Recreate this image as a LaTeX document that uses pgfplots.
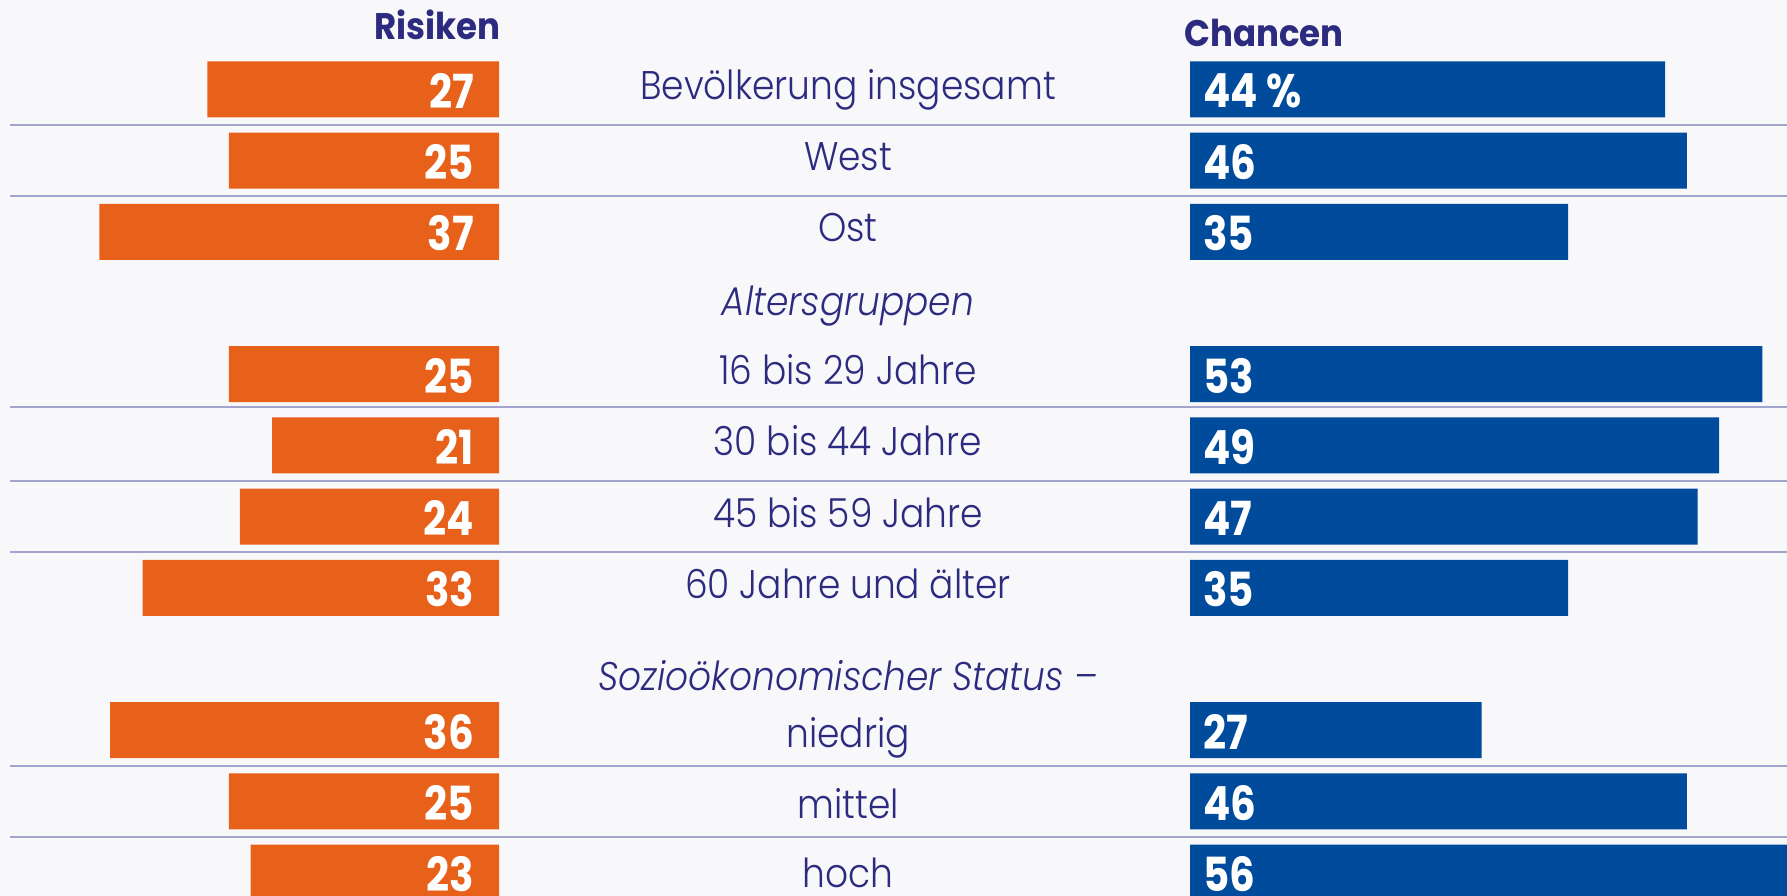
\documentclass[border=0pt]{standalone}
\usepackage{fontspec}
\setmainfont{Poppins}
\usepackage{pgfplots}
\usepackage{pgfplotstable}
\pgfplotsset{compat=1.18}
\definecolor{bg}{HTML}{F8F8FA}
\definecolor{orng}{HTML}{E8611A}
\definecolor{blu}{HTML}{004B9B}
\definecolor{navy}{HTML}{2D2B7F}
\definecolor{gridc}{HTML}{A3A4CE}
\IfFontExistsTF{Poppins Light}{\newfontfamily\lblfont[FakeStretch=0.9]{Poppins Light}}{\newfontfamily\lblfont[FakeStretch=0.9]{Poppins}}
\newfontfamily\numfont[FakeStretch=0.86]{Poppins}
\newfontfamily\headfont[FakeStretch=0.92]{Poppins}

\pgfplotstableread{
y risk chance clab
89.4 27 44 44~\%
160.6 25 46 46
231.8 37 35 35
374.2 25 53 53
445.4 21 49 49
516.6 24 47 47
587.8 33 35 35
730.2 36 27 27
801.4 25 46 46
872.6 23 56 56
}\datatab

\pgfplotstableread[col sep=semicolon]{
x;y;label
848;100;Bevölkerung insgesamt
848;170.7;West
848;241.7;Ost
848;384.7;16 bis 29 Jahre
848;455.9;30 bis 44 Jahre
848;527.1;45 bis 59 Jahre
848;598.3;60 Jahre und älter
848;747;niedrig
848;818;mittel
848;887;hoch
}\labtab

\pgfplotstableread[col sep=semicolon]{
x;y;label
848;315;Altersgruppen
848;690;Sozioökonomischer Status –
}\itatab

\begin{document}
\begin{tikzpicture}
\fill[bg] (0,0) rectangle (1787pt,896pt);
\useasboundingbox (0,0) rectangle (1787pt,896pt);

% grid lines and centre labels
\begin{axis}[at={(10pt,0pt)}, anchor=south west, scale only axis,
  width=1777pt, height=896pt, xmin=10, xmax=1787, ymin=0, ymax=896,
  y dir=reverse, axis line style={draw=none}, xtick=\empty,
  ytick={125,196.2,407,481,552.2,765.8,837}, yticklabels={},
  major tick length=0pt, ymajorgrids, grid style={gridc, line width=1.8pt},
  clip=false]
\addplot[draw=none, mark=none, nodes near coords, point meta=explicit symbolic,
  every node near coord/.append style={anchor=base, text=navy, inner sep=0pt,
  font=\lblfont\fontsize{40}{48}\selectfont}]
  table[x=x, y=y, meta=label] \labtab;
\addplot[draw=none, mark=none, nodes near coords, point meta=explicit symbolic,
  every node near coord/.append style={anchor=base, text=navy, inner sep=0pt,
  font=\lblfont\itshape\fontsize{40}{48}\selectfont}]
  table[x=x, y=y, meta=label] \itatab;
\end{axis}

% Risiken
\begin{axis}[at={(0pt,0pt)}, anchor=south west, scale only axis,
  width=499pt, height=896pt, xmin=0, xmax=46.2037, x dir=reverse,
  ymin=0, ymax=896, y dir=reverse, hide axis]
\addplot[xbar, bar width=56, fill=orng, draw=none] table[x=risk, y=y] \datatab;
\addplot[draw=none, mark=none, nodes near coords, point meta=explicit symbolic,
  every node near coord/.append style={anchor=east, text=white, inner sep=0pt, yshift=-1.5pt,
  font=\numfont\bfseries\fontsize{47}{50}\selectfont}]
  table[x expr=2.3, y=y, meta=risk] \datatab;
\end{axis}

% Chancen
\begin{axis}[at={(1190pt,0pt)}, anchor=south west, scale only axis,
  width=597pt, height=896pt, xmin=0, xmax=55.2778,
  ymin=0, ymax=896, y dir=reverse, hide axis]
\addplot[xbar, bar width=56, fill=blu, draw=none] table[x=chance, y=y] \datatab;
\addplot[draw=none, mark=none, nodes near coords, point meta=explicit symbolic,
  every node near coord/.append style={anchor=west, text=white, inner sep=0pt, yshift=-1.5pt,
  font=\numfont\bfseries\fontsize{47}{50}\selectfont}]
  table[x expr=1.2, y=y, meta=clab] \datatab;
\end{axis}

\node[anchor=base east, inner sep=0pt, text=navy, font=\headfont\bfseries\fontsize{37}{40}\selectfont] at (501pt,856pt) {Risiken};
\node[anchor=base west, inner sep=0pt, text=navy, font=\headfont\bfseries\fontsize{37}{40}\selectfont] at (1184pt,849pt) {Chancen};
\end{tikzpicture}
\end{document}
